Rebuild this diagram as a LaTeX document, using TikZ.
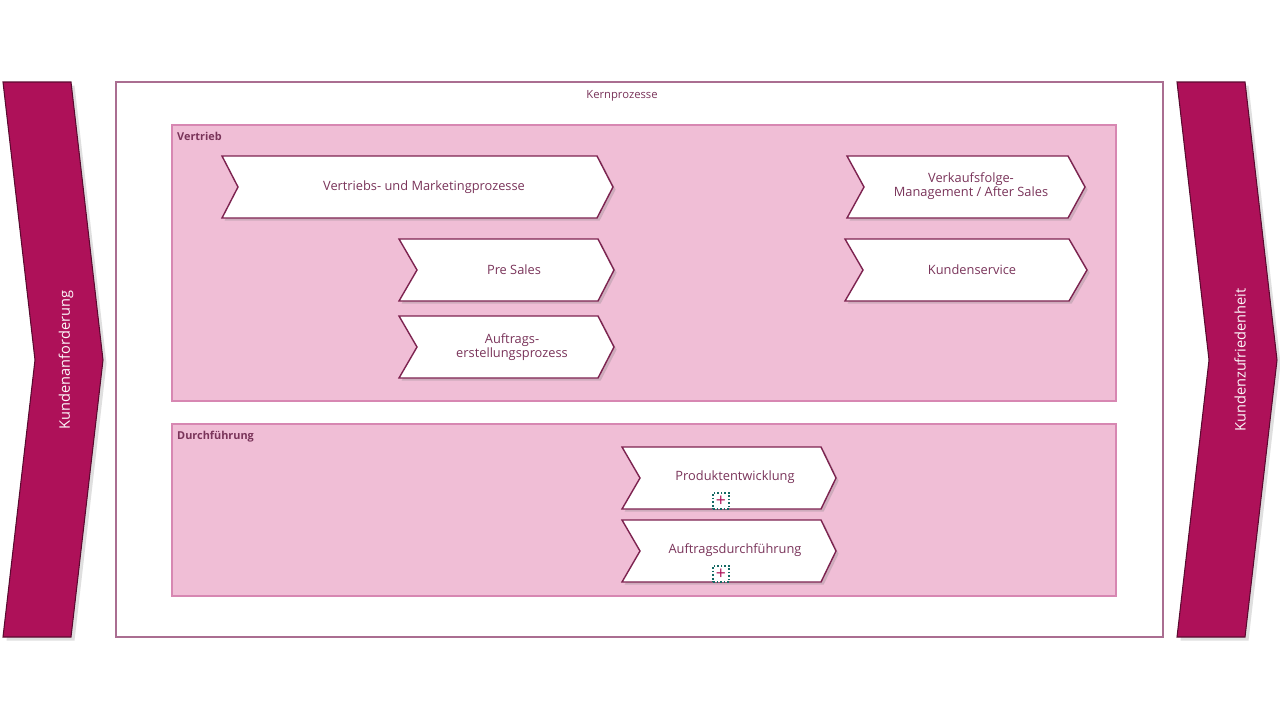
\documentclass[tikz,border=0pt]{standalone}
\usepackage{fontspec}
\setmainfont{Open Sans}
\usetikzlibrary{shadows,positioning}
\definecolor{kernrand}{RGB}{170,110,145}
\definecolor{rosa}{RGB}{240,190,214}
\definecolor{rosarand}{RGB}{215,135,178}
\definecolor{weinrot}{RGB}{174,17,89}
\definecolor{weinrand}{RGB}{90,10,48}
\definecolor{procrand}{RGB}{125,35,80}
\definecolor{schrift}{RGB}{122,52,90}
\definecolor{subteal}{RGB}{20,105,100}
\tikzset{
  proc/.style={fill=white, draw=procrand, line width=0.8pt,
    drop shadow={shadow xshift=1.5pt, shadow yshift=-1.5pt, opacity=0.3}},
  kunde/.style={fill=weinrot, draw=weinrand, line width=0.6pt,
    drop shadow={shadow xshift=2pt, shadow yshift=-2pt, opacity=0.25}},
  bereich/.style={fill=rosa, draw=rosarand, line width=0.6pt},
  lbl/.style={text=schrift, font=\fontsize{7.3}{8}\selectfont, align=center},
  klein/.style={text=schrift, font=\fontsize{6.2}{7}\selectfont\bfseries},
  quer/.style={text=white!90!rosa, font=\fontsize{8.3}{9}\selectfont, rotate=90},
  subm/.style={draw=subteal, densely dotted, line width=1pt, fill=white,
    minimum size=0.32cm, inner sep=0pt, text=weinrot, font=\fontsize{10}{10}\selectfont}
}

\begin{document}
\begin{tikzpicture}[x=0.02cm, y=-0.02cm]
\useasboundingbox (0,0) rectangle (1280,721);
\fill[white] (0,0) rectangle (1280,721);

% Kundenchevrons links und rechts
\draw[kunde] (3,82) -- (71,82) -- (103,360) -- (71,637) -- (3,637) -- (35,360) -- cycle;
\draw[kunde] (1177,82) -- (1245,82) -- (1277,360) -- (1245,637) -- (1177,637) -- (1209,360) -- cycle;
\node[quer] (anforderung) at (66,360) {Kundenanforderung};
\node[quer] (zufriedenheit) at (1240,360) {Kundenzufriedenheit};

% Kernprozesse
\draw[kernrand, fill=white, line width=0.6pt] (116,82) rectangle (1163,637);
\node[lbl, font=\fontsize{6.4}{7}\selectfont] (kern) at (622,96) {Kernprozesse};

\draw[bereich] (172,125) rectangle (1116,401);
\node[klein, anchor=west] (vertrieb) at (171,136) {Vertrieb};
\draw[bereich] (172,424) rectangle (1116,596);
\node[klein, anchor=west] (durchf) at (171,437) {Durchführung};

% Vertrieb
\draw[proc] (222,156) -- (597,156) -- (613,187) -- (597,218) -- (222,218) -- (238,187) -- cycle;
\node[lbl] (marketing) at (424,187) {Vertriebs- und Marketingprozesse};

\draw[proc] (399,239) -- (598,239) -- (614,270) -- (598,301) -- (399,301) -- (417,270) -- cycle;
\node[lbl] (presales) at (514,270) {Pre Sales};

\draw[proc] (399,316) -- (598,316) -- (614,347) -- (598,378) -- (399,378) -- (417,347) -- cycle;
\node[lbl] (erstellung) at (512,347) {Auftrags-\\erstellungsprozess};

\draw[proc] (847,156) -- (1068,156) -- (1085,187) -- (1068,218) -- (847,218) -- (864,187) -- cycle;
\node[lbl] (aftersales) at (971,186) {Verkaufsfolge-\\Management / After Sales};

\draw[proc] (845,239) -- (1069,239) -- (1087,270) -- (1069,301) -- (845,301) -- (863,270) -- cycle;
\node[lbl] (service) at (972,270) {Kundenservice};

% Durchfuehrung
\draw[proc] (622,447) -- (821,447) -- (836,478) -- (821,509) -- (622,509) -- (640,478) -- cycle;
\node[lbl] (entwicklung) at (735,477) {Produktentwicklung};
\node[subm] (entwicklung-sub) at (721,501) {+};

\draw[proc] (622,520) -- (821,520) -- (836,551) -- (821,582) -- (622,582) -- (640,551) -- cycle;
\node[lbl] (auftrag) at (735,550) {Auftragsdurchführung};
\node[subm] (auftrag-sub) at (721,574) {+};
\end{tikzpicture}
\end{document}
